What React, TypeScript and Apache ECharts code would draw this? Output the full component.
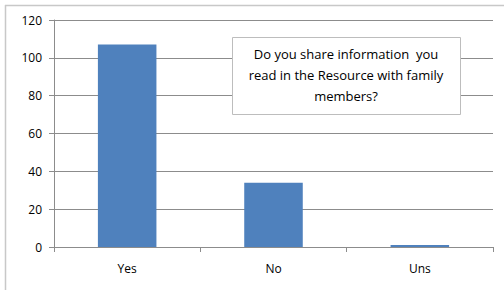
import React, { useEffect, useRef } from "react";
import * as echarts from "echarts";

const categories = ["Yes", "No", "Uns"];
const values = [107, 34, 1];
const yTicks = { min: 0, max: 120, interval: 20 };
const title = "Do you share information  you\nread in the Resource with family\nmembers?";

export default function App() {
  const ref = useRef<HTMLDivElement>(null);
  useEffect(() => {
    if (!ref.current) return;
    const chart = echarts.init(ref.current, null, { renderer: "svg" });
    const font = "'Open Sans', 'Noto Sans', sans-serif";
    chart.setOption({
      animation: false,
      backgroundColor: "#ffffff",
      grid: { left: 54, right: 11, top: 20, bottom: 43 },
      xAxis: {
        type: "category",
        data: categories,
        axisLine: { lineStyle: { color: "#8c8c8c", width: 1 } },
        axisTick: { show: true, length: 5, lineStyle: { color: "#8c8c8c" } },
        axisLabel: { color: "#000", fontFamily: font, fontSize: 12, margin: 15 },
      },
      yAxis: {
        type: "value",
        min: yTicks.min,
        max: yTicks.max,
        interval: yTicks.interval,
        axisLine: { show: true, lineStyle: { color: "#8c8c8c" } },
        axisTick: { show: true, length: 5, lineStyle: { color: "#8c8c8c" } },
        splitLine: { lineStyle: { color: "#8c8c8c", width: 1 } },
        axisLabel: { color: "#000", fontFamily: font, fontSize: 12, margin: 12 },
      },
      series: [
        {
          type: "bar",
          data: values,
          barWidth: "40%",
          itemStyle: { color: "#4f81bd" },
        },
      ],
      graphic: [
        {
          type: "line",
          shape: { x1: 5, y1: 5.5, x2: 504, y2: 5.5 },
          style: { stroke: "#c8c8c8", lineWidth: 1.5 },
          silent: true,
        },
        {
          type: "line",
          shape: { x1: 5.5, y1: 5, x2: 5.5, y2: 290 },
          style: { stroke: "#c8c8c8", lineWidth: 1.5 },
          silent: true,
        },
        {
          type: "rect",
          shape: { x: 232.5, y: 37.5, width: 228, height: 77 },
          style: { fill: "#ffffff", stroke: "#bdbdbd", lineWidth: 1 },
          z: 100,
        },
        {
          type: "text",
          x: 346,
          y: 75,
          style: {
            text: title,
            fontFamily: font,
            fontSize: 13,
            lineHeight: 21,
            fill: "#000",
            align: "center",
            verticalAlign: "middle",
          },
          z: 101,
        },
      ],
    });
    return () => chart.dispose();
  }, []);
  return (
    <div
      ref={ref}
      style={{ position: "fixed", left: 0, top: 0, width: 504, height: 290 }}
    />
  );
}
